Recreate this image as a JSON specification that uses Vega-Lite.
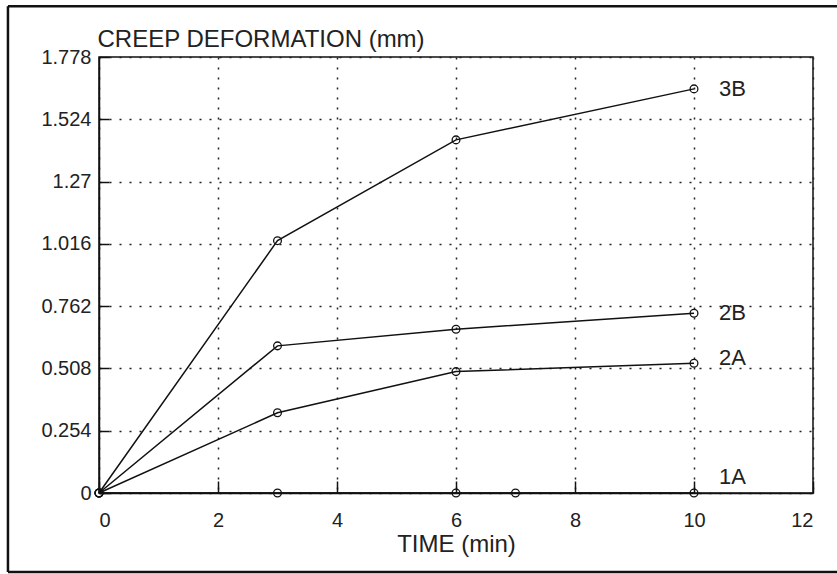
{
  "$schema": "https://vega.github.io/schema/vega-lite/v6.json",
  "width": 714,
  "height": 436,
  "autosize": {"type": "none"},
  "padding": {"left": 99, "top": 57, "right": 24, "bottom": 81},
  "background": "white",
  "config": {
    "font": "Liberation Sans",
    "view": {"stroke": "#111", "strokeWidth": 1.5},
    "axis": {
      "grid": true,
      "gridDash": [2, 8],
      "gridColor": "#222",
      "gridWidth": 1.5,
      "domainColor": "#111",
      "domainWidth": 1.5,
      "tickColor": "#111",
      "tickWidth": 1.5,
      "labelFontSize": 20,
      "labelColor": "#222",
      "titleColor": "#222",
      "titleFontWeight": "normal"
    }
  },
  "datasets": {
    "creep": [
      {"series": "1A", "t": 0, "d": 0},
      {"series": "1A", "t": 3, "d": 0},
      {"series": "1A", "t": 6, "d": 0},
      {"series": "1A", "t": 7, "d": 0},
      {"series": "1A", "t": 10, "d": 0},
      {"series": "2A", "t": 0, "d": 0},
      {"series": "2A", "t": 3, "d": 0.327},
      {"series": "2A", "t": 6, "d": 0.495},
      {"series": "2A", "t": 10, "d": 0.529},
      {"series": "2B", "t": 0, "d": 0},
      {"series": "2B", "t": 3, "d": 0.6},
      {"series": "2B", "t": 6, "d": 0.668},
      {"series": "2B", "t": 10, "d": 0.733},
      {"series": "3B", "t": 0, "d": 0},
      {"series": "3B", "t": 3, "d": 1.029},
      {"series": "3B", "t": 6, "d": 1.44},
      {"series": "3B", "t": 10, "d": 1.648}
    ],
    "labels": [
      {"label": "3B", "t": 10, "d": 1.648},
      {"label": "2B", "t": 10, "d": 0.733},
      {"label": "2A", "t": 10, "d": 0.55},
      {"label": "1A", "t": 10, "d": 0.065}
    ]
  },
  "layer": [
    {
      "data": {"name": "creep"},
      "mark": {"type": "line", "color": "#111", "strokeWidth": 1.5},
      "encoding": {
        "x": {
          "field": "t", "type": "quantitative",
          "scale": {"domain": [0, 12], "nice": false, "zero": false},
          "axis": {
            "values": [0, 2, 4, 6, 8, 10, 12],
            "format": "d",
            "tickSize": -12,
            "labelPadding": 29,
            "title": "TIME (min)",
            "titleFontSize": 24,
            "titlePadding": 2
          }
        },
        "y": {
          "field": "d", "type": "quantitative",
          "scale": {"domain": [0, 1.778], "nice": false, "zero": false},
          "axis": {
            "values": [0, 0.254, 0.508, 0.762, 1.016, 1.27, 1.524, 1.778],
            "format": ".4~g",
            "tickSize": -10,
            "labelPadding": 18,
            "title": "CREEP DEFORMATION (mm)",
            "titleFontSize": 24,
            "titleAngle": 0,
            "titleAlign": "left",
            "titleBaseline": "alphabetic",
            "titleX": -2,
            "titleY": -11
          }
        },
        "detail": {"field": "series"}
      }
    },
    {
      "data": {"name": "creep"},
      "mark": {"type": "point", "shape": "circle", "filled": false, "size": 60, "color": "#111", "strokeWidth": 1.3, "opacity": 1},
      "encoding": {
        "x": {"field": "t", "type": "quantitative"},
        "y": {"field": "d", "type": "quantitative"}
      }
    },
    {
      "data": {"name": "labels"},
      "mark": {"type": "text", "align": "left", "baseline": "middle", "dx": 25, "fontSize": 22, "color": "#222"},
      "encoding": {
        "x": {"field": "t", "type": "quantitative"},
        "y": {"field": "d", "type": "quantitative"},
        "text": {"field": "label"}
      }
    },
    {
      "data": {"values": [{}]},
      "mark": {"type": "rule", "stroke": "#111", "strokeWidth": 2.5, "clip": false},
      "encoding": {
        "x": {"datum": -1.53, "type": "quantitative"},
        "y": {"datum": -0.322, "type": "quantitative"},
        "y2": {"datum": 1.985}
      }
    },
    {
      "data": {"values": [{"yy": -0.322}, {"yy": 1.985}]},
      "mark": {"type": "rule", "stroke": "#111", "strokeWidth": 2.5, "clip": false},
      "encoding": {
        "x": {"datum": -1.53, "type": "quantitative"},
        "x2": {"datum": 13},
        "y": {"field": "yy", "type": "quantitative"}
      }
    }
  ]
}
